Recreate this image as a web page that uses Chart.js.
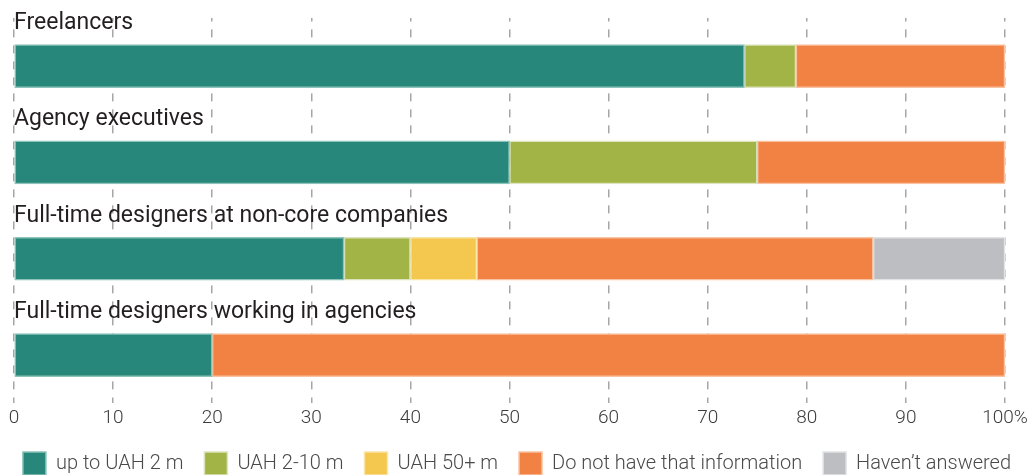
<!DOCTYPE html>
<html>
<head>
<meta charset="utf-8">
<script src="https://cdn.jsdelivr.net/npm/chart.js@4"></script>
<style>
  html, body { margin: 0; padding: 0; background: #fff; }
  #wrap { width: 1034px; height: 475px; }
</style>
</head>
<body>
<div id="wrap"><canvas id="chart" width="1034" height="475"></canvas></div>
<script>
const groups = [
  "Freelancers",
  "Agency executives",
  "Full-time designers at non-core companies",
  "Full-time designers working in agencies"
];
const upTo2m = [73.7, 50, 33.3, 20];
const from2to10m = [5.2, 25, 6.7, null];
const over50m = [null, null, 6.7, null];
const noInfo = [21.1, 25, 40, 80];
const noAnswer = [null, null, 13.3, null];
const xTicks = [0, 10, 20, 30, 40, 50, 60, 70, 80, 90, 100];

const series = [
  { label: "up to UAH 2 m", data: upTo2m, color: "#26877a", edge: "#8cc3bb" },
  { label: "UAH 2-10 m", data: from2to10m, color: "#a3b446", edge: "#dde3bd" },
  { label: "UAH 50+ m", data: over50m, color: "#f4c84f", edge: "#fae4a8" },
  { label: "Do not have that information", data: noInfo, color: "#f28244", edge: "#f9c2a2" },
  { label: "Haven\u2019t answered", data: noAnswer, color: "#bdbec1", edge: "#e2e3e4" }
];

// category names are written above each bar
const groupLabels = {
  id: "groupLabels",
  afterDatasetsDraw(chart) {
    const { ctx, scales } = chart;
    ctx.save();
    ctx.font = "400 23px Roboto";
    ctx.fillStyle = "#231f20";
    ctx.textBaseline = "alphabetic";
    groups.forEach((g, i) => {
      const y = scales.y.getPixelForValue(i);
      ctx.fillText(g, scales.x.getPixelForValue(0), y - 37);
    });
    ctx.restore();
  }
};

new Chart(document.getElementById("chart"), {
  type: "bar",
  data: {
    labels: groups,
    datasets: series.map(s => ({
      label: s.label,
      data: s.data,
      backgroundColor: s.color,
      borderColor: s.edge,
      borderWidth: 1.5,
      borderSkipped: false,
      barThickness: 43
    }))
  },
  options: {
    indexAxis: "y",
    responsive: false,
    animation: false,
    layout: { padding: { top: 18, bottom: -10 } },
    scales: {
      x: {
        stacked: true,
        min: 0,
        max: 100,
        afterBuildTicks: axis => { axis.ticks = xTicks.map(v => ({ value: v })); },
        afterFit: axis => { axis.height -= 3; },
        border: { display: false, dash: [8, 8], dashOffset: 4.6 },
        grid: {
          color: "#a6a6a6",
          lineWidth: 1.5,
          drawTicks: false
        },
        ticks: {
          padding: 4,
          color: "#3c3c3c",
          font: { family: "Roboto", weight: "300", size: 19 },
          callback: v => (v === 100 ? "100%" : v)
        }
      },
      y: {
        stacked: true,
        display: true,
        afterFit: axis => { axis.width = 14; },
        border: { display: false },
        grid: { display: false },
        ticks: { display: false }
      },
      yRight: {
        type: "linear",
        position: "right",
        display: true,
        afterFit: axis => { axis.width = 29; },
        border: { display: false },
        grid: { display: false },
        ticks: { display: false }
      }
    },
    plugins: {
      legend: {
        position: "bottom",
        labels: {
          boxWidth: 23,
          boxHeight: 23,
          padding: 21,
          color: "#4a4a4a",
          font: { family: "Roboto", weight: "300", size: 20 },
          generateLabels: chart => series.map((s, i) => ({
            text: s.label,
            fillStyle: s.color,
            strokeStyle: s.edge,
            lineWidth: 1.5,
            fontColor: "#4a4a4a",
            datasetIndex: i
          }))
        }
      },
      tooltip: { enabled: false }
    }
  },
  plugins: [groupLabels]
});
</script>
</body>
</html>
